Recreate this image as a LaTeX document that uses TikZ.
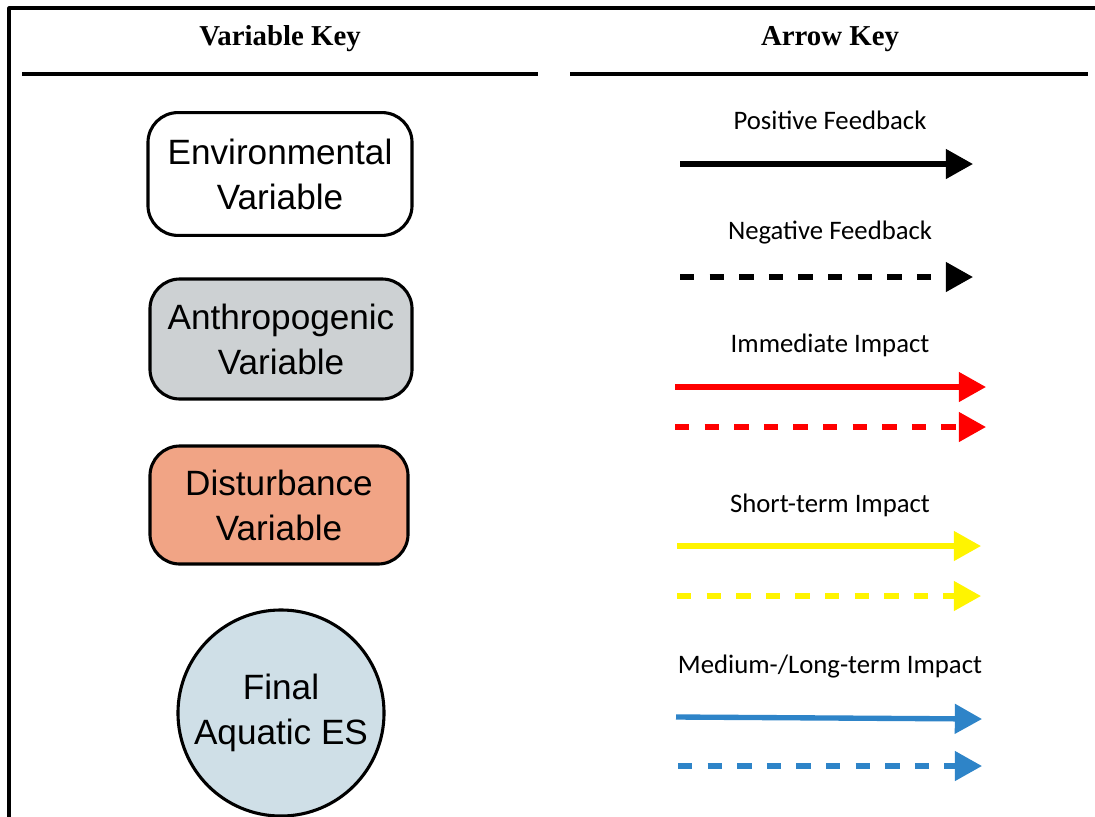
\documentclass[tikz,border=0pt]{standalone}
\usepackage{fontspec}
\setmainfont{Liberation Serif}
\newfontfamily\boxfont{Liberation Sans}
\newfontfamily\keyfont{Carlito}
\usetikzlibrary{arrows.meta}
\definecolor{anthrogray}{RGB}{205,209,211}
\definecolor{disturbsalmon}{RGB}{241,164,133}
\definecolor{aquablue}{RGB}{207,223,231}
\definecolor{impred}{RGB}{255,0,0}
\definecolor{shortyellow}{RGB}{255,244,0}
\definecolor{longblue}{RGB}{46,132,200}
\tikzset{
  varbox/.style={draw=black, line width=2.2pt, rounded corners=0.75cm, align=center,
    inner sep=0pt, font=\boxfont\fontsize{25}{32}\selectfont},
  keytitle/.style={font=\bfseries\fontsize{20.5}{24}\selectfont, anchor=base},
  keylabel/.style={font=\keyfont\fontsize{19}{22}\selectfont, anchor=base},
  keyarrow/.style={line width=3.8pt, -{Triangle[length=0.68cm, width=0.72cm]}},
  keydash/.style={keyarrow, dash pattern=on 0.36cm off 0.38cm}
}

\begin{document}
\begin{tikzpicture}[line join=round,x=0.025cm,y=-0.025cm]
\useasboundingbox (0,0) rectangle (1095,816);
\fill[white] (-10,-10) rectangle (1105,826);
% frame and headings
\draw[line width=2.2pt] (9,826) -- (9,8) -- (1105,8);
\node[keytitle] (varkey) at (280,45) {Variable Key};
\node[keytitle] (arrkey) at (830,45) {Arrow Key};
\draw[line width=2.2pt] (22,74) -- (538,74);
\draw[line width=2.2pt] (570,74) -- (1088,74);

% variable key
\node[varbox, fill=white, minimum width=6.6cm, minimum height=3.07cm] (env) at (280,174) {Environmental\\Variable};
\node[varbox, fill=anthrogray, minimum width=6.55cm, minimum height=3cm] (anthro) at (281,339) {Anthropogenic\\Variable};
\node[varbox, fill=disturbsalmon, minimum width=6.45cm, minimum height=2.95cm] (disturb) at (279,505) {Disturbance\\Variable};
\node[varbox, circle, fill=aquablue, minimum size=5.15cm] (final) at (281,713) {Final\\Aquatic ES};

% arrow key
\node[keylabel] (posfb) at (830,129) {Positive Feedback};
\node[keylabel] (negfb) at (830,239) {Negative Feedback};
\node[keylabel] (immimp) at (830,352) {Immediate Impact};
\node[keylabel] (shortimp) at (830,512) {Short-term Impact};
\node[keylabel] (longimp) at (830,673) {Medium-/Long-term Impact};

\coordinate (pos-a) at (680,164);  \coordinate (pos-b) at (973,164);
\coordinate (neg-a) at (680,277);  \coordinate (neg-b) at (973,277);
\coordinate (imm-a) at (675,387);  \coordinate (imm-b) at (986,387);
\coordinate (immd-a) at (675,427); \coordinate (immd-b) at (986,427);
\coordinate (sht-a) at (677,546);  \coordinate (sht-b) at (981,546);
\coordinate (shtd-a) at (677,596); \coordinate (shtd-b) at (981,596);
\coordinate (lng-a) at (676,717);  \coordinate (lng-b) at (982,719);
\coordinate (lngd-a) at (678,766); \coordinate (lngd-b) at (982,766);

\draw[keyarrow] (pos-a) -- (pos-b);
\draw[keydash] (neg-a) -- (neg-b);
\draw[keyarrow, impred] (imm-a) -- (imm-b);
\draw[keydash, impred] (immd-a) -- (immd-b);
\draw[keyarrow, shortyellow] (sht-a) -- (sht-b);
\draw[keydash, shortyellow] (shtd-a) -- (shtd-b);
\draw[keyarrow, longblue] (lng-a) -- (lng-b);
\draw[keydash, longblue] (lngd-a) -- (lngd-b);
\end{tikzpicture}
\end{document}
